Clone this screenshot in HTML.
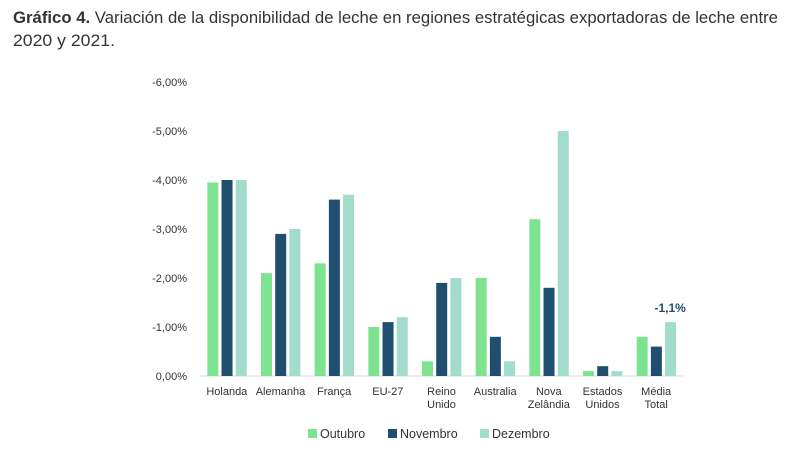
<!DOCTYPE html>
<html><head><meta charset="utf-8"><style>
body{margin:0;background:#fff;}
svg{display:block;font-family:"Liberation Sans",sans-serif;}
</style></head><body>
<svg id="chart" width="800" height="450" viewBox="0 0 800 450">
<text x="13" y="23" font-size="17" fill="#333" textLength="765" lengthAdjust="spacingAndGlyphs"><tspan font-weight="bold">Gráfico 4.</tspan> Variación de la disponibilidad de leche en regiones estratégicas exportadoras de leche entre</text>
<text x="13" y="46" font-size="17" fill="#333" textLength="102" lengthAdjust="spacingAndGlyphs">2020 y 2021.</text>
<g id="axes"></g><g id="bars"></g><g id="legend"></g>
</svg>
<script>
const categories=[["Holanda"],["Alemanha"],["França"],["EU-27"],["Reino","Unido"],["Australia"],["Nova","Zelândia"],["Estados","Unidos"],["Média","Total"]];
const outubro=[3.95,2.1,2.3,1.0,0.3,2.0,3.2,0.1,0.8];
const novembro=[4.0,2.9,3.6,1.1,1.9,0.8,1.8,0.2,0.6];
const dezembro=[4.0,3.0,3.7,1.2,2.0,0.3,5.0,0.1,1.1];
const yTicks=[0,1,2,3,4,5,6];
const seriesNames=["Outubro","Novembro","Dezembro"];
const annotation="-1,1%";
const colors=["#7ee390","#1f4e6e","#a1dccd"];
const NS="http://www.w3.org/2000/svg";
const x0=200,x1=683,yZero=376,pxPer=49;
const step=(x1-x0)/categories.length;
const y=v=>yZero-v*pxPer;
const xc=i=>x0+step*(i+0.5);
function mk(t,a,p){const e=document.createElementNS(NS,t);for(const k in a)e.setAttribute(k,a[k]);p.appendChild(e);return e;}
const axes=document.getElementById('axes'),bars=document.getElementById('bars'),leg=document.getElementById('legend');
yTicks.forEach(t=>{const e=mk('text',{x:187,y:y(t)+4,'font-size':11,fill:'#333','text-anchor':'end'},axes);


e.textContent=(t===0?'0,00%':'-'+t.toFixed(2).replace('.',',')+'%');});
const ax=mk('line',{x1:x0,x2:x1,y1:yZero,y2:yZero,stroke:'#d9d9d9','stroke-width':1},axes);


categories.forEach((c,i)=>{c.forEach((l,j)=>{const e=mk('text',{x:xc(i),y:395+j*13,'font-size':11,fill:'#333','text-anchor':'middle'},axes);


e.textContent=l;});});
const series=[outubro,novembro,dezembro];
series.forEach((s,k)=>{s.forEach((v,i)=>{const bx=xc(i)-19.5+k*14.2;
const r=mk('rect',{x:bx,y:y(v),width:11,height:v*pxPer,fill:colors[k]},bars);

});});
const ann=mk('text',{x:xc(8)+14,y:y(dezembro[8])-10,'font-size':12,'font-weight':'bold',fill:'#1f4e6e','text-anchor':'middle'},bars);


ann.textContent=annotation;
const lx=[308,388,480];
seriesNames.forEach((n,k)=>{const g=mk('g',{},leg);


mk('rect',{x:lx[k],y:429,width:9,height:9,fill:colors[k]},g);
const t=mk('text',{x:lx[k]+12,y:438,'font-size':12.5,fill:'#333'},g);t.textContent=n;});
</script>
</body></html>
